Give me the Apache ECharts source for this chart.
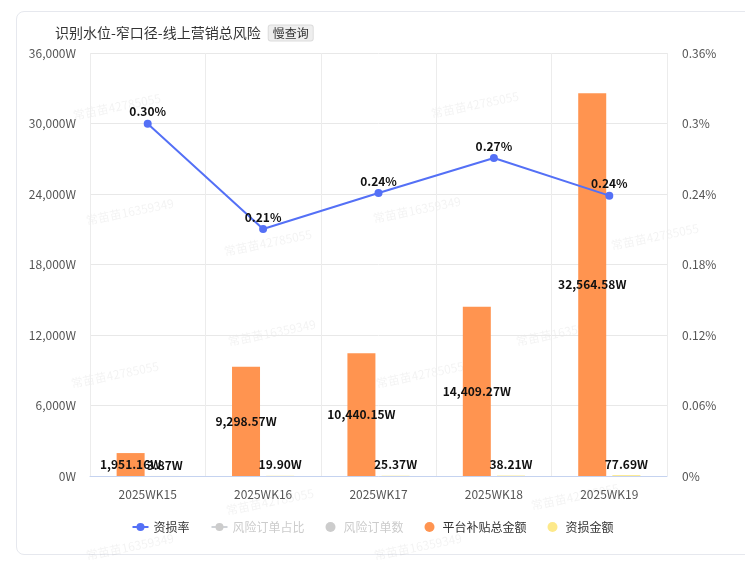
<!DOCTYPE html>
<html><head><meta charset="utf-8">
<script src="https://cdn.jsdelivr.net/npm/echarts@6/dist/echarts.min.js"></script>
<style>
html,body{margin:0;padding:0;background:#fff;width:745px;height:565px;overflow:hidden;font-family:"Noto Sans CJK SC","Noto Sans",sans-serif}
#card{position:absolute;left:16px;top:11px;width:760px;height:544px;border:1px solid #e6e8ee;border-radius:8px;box-sizing:border-box}
#chart{position:absolute;left:0;top:0;width:745px;height:565px}
</style></head>
<body>
<div id="card"></div>
<div id="chart"></div>
<script>
const categories = ['2025WK15','2025WK16','2025WK17','2025WK18','2025WK19'];
const lossRate = [0.2998, 0.2102, 0.2408, 0.2706, 0.2386];      // 资损率 (%)
const riskOrderRatio = [];                                       // 风险订单占比 (hidden)
const riskOrderCount = [];                                       // 风险订单数 (hidden)
const subsidyAmount = [1951.16, 9298.57, 10440.15, 14409.27, 32564.58]; // 平台补贴总金额 (W)
const lossAmount = [3.87, 19.90, 25.37, 38.21, 77.69];           // 资损金额 (W)
const leftTicks = {min: 0, max: 36000, interval: 6000};
const rightTicks = {min: 0, max: 0.36, interval: 0.06};
const watermarks = [
  ['常苗苗42785055', 72, 102], ['常苗苗42785055', 430, 100],
  ['常苗苗16359349', 85, 207], ['常苗苗16359349', 372, 205],
  ['常苗苗42785055', 223, 238], ['常苗苗42785055', 610, 232],
  ['常苗苗16359349', 227, 328], ['常苗苗16359349', 515, 328],
  ['常苗苗42785055', 70, 370], ['常苗苗42785055', 375, 370],
  ['常苗苗42785055', 225, 497], ['常苗苗42785055', 530, 492],
  ['常苗苗16359349', 85, 542], ['常苗苗16359349', 373, 542]
];

const FONT = '"Noto Sans CJK SC","Noto Sans",sans-serif';
const fmtW = v => v.toLocaleString('en-US',{minimumFractionDigits:2,maximumFractionDigits:2}) + 'W';
const chart = echarts.init(document.getElementById('chart'), null, {renderer:'canvas'});
chart.setOption({
  backgroundColor: 'transparent',
  textStyle: {fontFamily: FONT},
  title: {
    left: 55, top: 24, padding: 0,
    text: '{t|识别水位-窄口径-线上营销总风险}{sp|}{tag|慢查询}',
    textStyle: {
      fontWeight: 'normal',
      rich: {
        t: {fontSize: 14, color: '#333', fontWeight: 'normal', fontFamily: FONT},
        sp: {width: 8},
        tag: {fontSize: 12, color: '#333', fontWeight: 'normal', backgroundColor: '#eeeeee', borderColor: '#dcdcdc', borderWidth: 1, borderRadius: 2, padding: [2, 4, 1, 4], fontFamily: FONT}
      }
    }
  },
  graphic: watermarks.map(w => ({
    type: 'text', left: w[1], top: w[2] - 10, rotation: 0.2, silent: true, z: 0,
    style: {text: w[0], fill: 'rgba(0,0,0,0.05)', font: '12px ' + FONT}
  })),
  legend: {
    top: 516, left: 'center', itemGap: 21, itemWidth: 16, itemHeight: 10,
    textStyle: {fontSize: 12, color: '#333', fontFamily: FONT},
    inactiveColor: '#ccc',
    selected: {'风险订单占比': false, '风险订单数': false},
    data: [
      {name: '资损率'},
      {name: '风险订单占比'},
      {name: '风险订单数', icon: 'circle'},
      {name: '平台补贴总金额', icon: 'circle'},
      {name: '资损金额', icon: 'circle'}
    ]
  },
  grid: {left: 90, right: 78, top: 53, bottom: 89},
  xAxis: {
    type: 'category', data: categories,
    axisLine: {lineStyle: {color: '#c5d3f0'}},
    axisTick: {show: false},
    axisLabel: {color: '#555', fontSize: 12, margin: 12},
    splitLine: {show: true, lineStyle: {color: '#ececec'}}
  },
  yAxis: [
    {type: 'value', min: leftTicks.min, max: leftTicks.max, interval: leftTicks.interval,
     axisLabel: {color: '#555', fontSize: 12, margin: 14, formatter: v => v.toLocaleString('en-US') + 'W'},
     axisLine: {show: false}, axisTick: {show: false},
     splitLine: {lineStyle: {color: '#e8e8e8'}}},
    {type: 'value', min: rightTicks.min, max: rightTicks.max, interval: rightTicks.interval,
     axisLabel: {color: '#555', fontSize: 12, margin: 15, formatter: v => (+v.toFixed(2)) + '%'},
     axisLine: {show: false}, axisTick: {show: false}, splitLine: {show: false}}
  ],
  series: [
    {name: '资损率', type: 'line', yAxisIndex: 1, data: lossRate, z: 5,
     symbol: 'circle', symbolSize: 8,
     itemStyle: {color: '#5470f6'}, lineStyle: {width: 2, color: '#5470f6'},
     label: {show: true, position: 'top', distance: 2, color: '#111', fontWeight: 'bold', fontSize: 12, formatter: p => p.value.toFixed(2) + '%'}},
    {name: '风险订单占比', type: 'line', yAxisIndex: 1, data: riskOrderRatio,
     symbol: 'circle', symbolSize: 8, itemStyle: {color: '#aaa'}},
    {name: '风险订单数', type: 'bar', data: riskOrderCount, itemStyle: {color: '#bbb'}},
    {name: '平台补贴总金额', type: 'bar', data: subsidyAmount, barWidth: 28, barGap: '22%',
     itemStyle: {color: '#ff9450'},
     label: {show: true, position: 'inside', color: '#111', fontWeight: 'bold', fontSize: 12, formatter: p => fmtW(p.value)}},
    {name: '资损金额', type: 'bar', data: lossAmount, barWidth: 28,
     itemStyle: {color: '#fde98a'},
     label: {show: true, position: 'top', color: '#111', fontWeight: 'bold', fontSize: 12, formatter: p => fmtW(p.value)}}
  ]
});
</script>
</body></html>
